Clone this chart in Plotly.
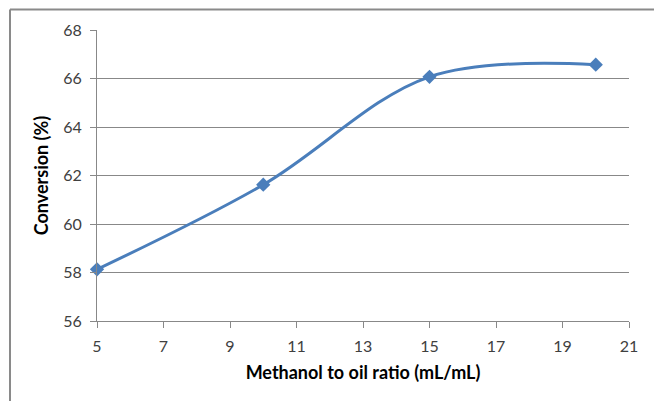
import plotly.graph_objects as go

ratio = [5, 10, 15, 20]
conversion = [58.13, 61.62, 66.07, 66.57]
x_ticks = [5, 7, 9, 11, 13, 15, 17, 19, 21]
y_ticks = [56, 58, 60, 62, 64, 66, 68]

W, H = 654, 401
L, R, T, B = 97, 25, 29.5, 80.3
pw = W - L - R
ph = H - T - B

def px_x(p):
    return (p - L) / pw

def px_y(p):
    return (H - B - p) / ph

fig = go.Figure()
fig.add_trace(go.Scatter(
    x=ratio, y=conversion, mode="lines+markers",
    line=dict(color="#4A7EBB", width=3, shape="spline", smoothing=1),
    marker=dict(symbol="diamond", size=11, color="#4A7EBB"),
    showlegend=False, cliponaxis=False,
))

fig.update_layout(
    width=W, height=H,
    margin=dict(l=L, r=R, t=T, b=B),
    paper_bgcolor="white", plot_bgcolor="white",
    font=dict(family="Lato, Liberation Sans, sans-serif", size=16, color="#404040"),
    xaxis=dict(
        range=[5, 21], tickvals=x_ticks, ticktext=[str(v) for v in x_ticks],
        showgrid=False, zeroline=False,
        showline=True, linecolor="#888888", linewidth=1,
        ticks="outside", ticklen=6, tickcolor="#888888",
        ticklabelstandoff=5,
        title=dict(text="<b>Methanol to oil ratio (mL/mL)</b>",
                   font=dict(size=18, color="#000000"), standoff=12),
    ),
    yaxis=dict(
        range=[56, 68], tickvals=y_ticks, ticktext=[str(v) for v in y_ticks],
        showgrid=True, gridcolor="#888888", gridwidth=1, zeroline=False,
        showline=True, linecolor="#888888", linewidth=1,
        ticks="outside", ticklen=6, tickcolor="#888888",
        ticklabelstandoff=5,
        title=dict(text="<b>Conversion (%)</b>",
                   font=dict(size=18, color="#000000"), standoff=9),
    ),
)

# chart outer border (top and left edges visible)
fig.add_shape(type="line", xref="paper", yref="paper",
              x0=px_x(10), x1=px_x(660), y0=px_y(9), y1=px_y(9),
              line=dict(color="#8a8a8a", width=2))
fig.add_shape(type="line", xref="paper", yref="paper",
              x0=px_x(10), x1=px_x(10), y0=px_y(9), y1=px_y(410),
              line=dict(color="#8a8a8a", width=2))

fig.write_html("out.html")
